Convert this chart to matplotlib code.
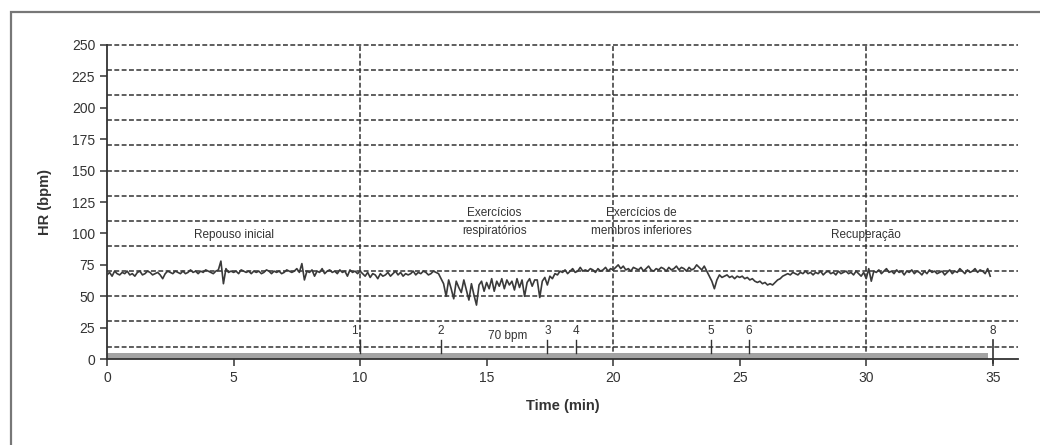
import matplotlib.pyplot as plt
import numpy as np
from matplotlib.patches import Rectangle

plt.rcParams['font.family'] = ['Liberation Sans', 'DejaVu Sans']

# Heart rate trace, one sample every 0.1 min (one row per minute)
hr = [
    67, 69, 66, 70, 68, 67, 69, 68, 70, 67,
    68, 66, 69, 70, 67, 68, 70, 69, 67, 68,
    69, 67, 64, 68, 70, 69, 68, 70, 69, 68,
    70, 68, 69, 71, 69, 70, 68, 70, 69, 71,
    70, 69, 68, 70, 71, 78, 60, 72, 69, 70,
    69, 70, 68, 71, 70, 69, 70, 68, 70, 69,
    70, 68, 69, 71, 70, 68, 70, 69, 70, 68,
    69, 71, 70, 69, 70, 72, 69, 76, 63, 70,
    69, 71, 66, 70, 69, 72, 68, 70, 71, 69,
    70, 68, 71, 69, 70, 66, 71, 69, 70, 68,
    70, 68, 66, 69, 65, 68, 67, 64, 68, 66,
    67, 69, 66, 68, 70, 67, 69, 66, 68, 67,
    68, 70, 67, 69, 68, 70, 69, 67, 68, 70,
    69, 68, 64, 60, 50, 63, 56, 48, 62, 57,
    53, 63, 55, 47, 60, 51, 43, 59, 62, 54,
    61, 56, 64, 54, 62, 58, 64, 56, 63, 59,
    62, 55, 64, 57, 63, 50, 61, 64, 58, 63,
    63, 49, 62, 65, 59, 66, 64, 68, 67, 70,
    69, 71, 68, 70, 72, 69, 70, 73, 70, 71,
    70, 72, 71, 69, 72, 70, 71, 73, 70, 72,
    71, 73, 75, 72, 74, 71, 72, 70, 73, 72,
    71, 73, 70, 72, 74, 71, 70, 72, 71, 73,
    72, 70, 73, 71, 72, 74, 71, 73, 72, 70,
    73, 71, 72, 75, 73, 71, 74, 70, 66, 62,
    56, 63, 67, 65, 66, 67, 65, 66, 64, 66,
    65, 66, 64, 65, 63, 64, 62, 61, 62, 60,
    61, 59, 60, 59, 61, 63, 64, 66, 67, 68,
    67, 69, 68, 67, 69, 68, 70, 68, 69, 67,
    69, 68, 70, 67, 69, 70, 68, 69, 67, 70,
    68, 69, 70, 68, 69, 67, 70, 68, 66, 69,
    64, 72, 62, 70, 69, 71, 68, 70, 72, 69,
    70, 68, 71, 69, 70, 67, 70, 69, 71, 68,
    70, 69, 67, 70, 68, 71, 69, 70, 68, 69,
    70, 67, 69, 71, 68, 70, 69, 72, 70, 68,
    71, 69, 70, 72, 69, 71, 70, 68, 72, 66,
]
sample_step = 0.1

# event markers along the bottom
event_times = [10.0, 13.2, 17.4, 18.55, 23.85, 25.35, 35.0]
event_labels = ['1', '2', '3', '4', '5', '6', '8']

# protocol phases
phase_labels = ['Repouso inicial', 'Exercícios\nrespiratórios',
                'Exercícios de\nmembros inferiores', 'Recuperação']
phase_x = [5.0, 15.3, 21.1, 30.0]
phase_y = [99, 109, 109, 99]

bar_end = 34.8
bar_height = 5

hgrid = [10, 30, 50, 70, 90, 110, 130, 150, 170, 190, 210, 230, 250]
vgrid = [10, 20, 30]

dark = '#333333'
dash = (0, (3.2, 1.6))

fig = plt.figure(figsize=(10.4, 4.45), dpi=100)
ax = fig.add_axes([0.1029, 0.193, 0.876, 0.706])

# outer frame (cut off at right and bottom, as in the source)
fig.patches.append(Rectangle((0.0106, -0.2), 1.5, 0.973 + 0.2, transform=fig.transFigure,
                             fill=False, edgecolor='#777777', linewidth=1.6))

for y in hgrid:
    ax.axhline(y, color=dark, linestyle=dash, linewidth=1.1, zorder=1, clip_on=False)
for x in vgrid:
    ax.axvline(x, color=dark, linestyle=dash, linewidth=1.1, zorder=1)

ax.fill_between([0, bar_end], 0, bar_height, color='#a3a3a3', linewidth=0, zorder=2)

t = np.arange(len(hr)) * sample_step
ax.plot(t, hr, color='#3a3a3a', linewidth=1.2, zorder=3)

for x, lab in zip(event_times, event_labels):
    if lab == '8':
        ax.plot([x, x], [-3, 15], color=dark, linewidth=1.2, clip_on=False, zorder=4)
    else:
        ax.plot([x, x], [5, 15], color=dark, linewidth=1.0, zorder=4)
    if lab == '1':
        ax.text(x - 0.08, 22, lab, ha='right', va='center', fontsize=8.5, color=dark)
    else:
        ax.text(x, 22, lab, ha='center', va='center', fontsize=8.5, color=dark)

ax.text(15.85, 18, '70 bpm', ha='center', va='center', fontsize=8.5, color=dark)

for x, y, lab in zip(phase_x, phase_y, phase_labels):
    ax.text(x, y, lab, ha='center', va='center', fontsize=8.5, color=dark, linespacing=1.6)

ax.set_xlim(0, 36)
ax.set_ylim(0, 250)
ax.set_xticks(np.arange(0, 36, 5))
ax.set_yticks(np.arange(0, 251, 25))
ax.tick_params(direction='out', length=5, width=1.1, colors=dark, labelsize=10)
for side in ['top', 'right']:
    ax.spines[side].set_visible(False)
for side in ['left', 'bottom']:
    ax.spines[side].set_color(dark)
    ax.spines[side].set_linewidth(1.3)

ax.set_xlabel('Time (min)', fontsize=10.5, fontweight='bold', color=dark, labelpad=10)
ax.set_ylabel('HR (bpm)', fontsize=10.5, fontweight='bold', color=dark, labelpad=14)

fig.savefig('out.png', dpi=100)
